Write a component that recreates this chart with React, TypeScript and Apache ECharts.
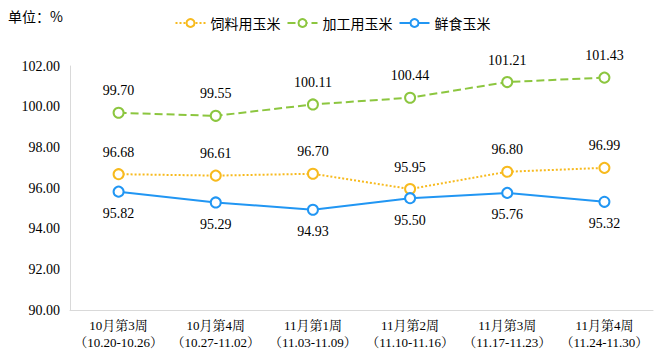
import React, { useEffect, useRef } from "react";
import * as echarts from "echarts";

const categories = [
  "10月第3周\n（10.20-10.26）",
  "10月第4周\n（10.27-11.02）",
  "11月第1周\n（11.03-11.09）",
  "11月第2周\n（11.10-11.16）",
  "11月第3周\n（11.17-11.23）",
  "11月第4周\n（11.24-11.30）",
];
const feedCorn = [96.68, 96.61, 96.7, 95.95, 96.8, 96.99];
const processCorn = [99.7, 99.55, 100.11, 100.44, 101.21, 101.43];
const freshCorn = [95.82, 95.29, 94.93, 95.5, 95.76, 95.32];

const serif = "Liberation Serif, Noto Serif CJK SC, Noto Sans CJK SC, serif";
const sans = "Noto Sans CJK SC, sans-serif";

export default function App() {
  const ref = useRef<HTMLDivElement>(null);
  useEffect(() => {
    const chart = echarts.init(ref.current!, null, { renderer: "svg" });
    const mk = (name: string, data: number[], color: string, type: any, pos: string) => ({
      name,
      type: "line",
      data,
      symbol: "emptyCircle",
      symbolSize: 10,
      lineStyle: { color, width: 2, type },
      itemStyle: { color, borderColor: color, borderWidth: 2 },
      label: {
        show: true,
        position: pos,
        distance: 9,
        color: "#000",
        fontFamily: serif,
        fontSize: 14,
        formatter: (p: any) => p.value.toFixed(2),
      },
    });
    chart.setOption({
      animation: false,
      graphic: [
        {
          type: "text",
          left: 8,
          top: 9,
          style: { text: "单位：%", fontFamily: sans, fontSize: 14, fill: "#000" },
        },
      ],
      legend: {
        top: 11,
        left: "center",
        itemWidth: 30,
        itemHeight: 10,
        itemGap: 6,
        textStyle: { fontFamily: sans, fontSize: 14, color: "#000" },
        data: ["饲料用玉米", "加工用玉米", "鲜食玉米"],
      },
      grid: { left: 70, right: 12, top: 66, bottom: 49 },
      xAxis: {
        type: "category",
        data: categories,
        axisLine: { lineStyle: { color: "#d9d9d9" } },
        axisTick: { show: false },
        axisLabel: {
          interval: 0,
          color: "#000",
          fontFamily: serif,
          fontSize: 13,
          lineHeight: 17,
          margin: 7,
        },
      },
      yAxis: {
        type: "value",
        min: 90,
        max: 102,
        interval: 2,
        axisLine: { show: true, lineStyle: { color: "#d9d9d9" } },
        splitLine: { show: false },
        axisTick: { show: false },
        axisLabel: {
          color: "#000",
          fontFamily: serif,
          fontSize: 14,
          margin: 10,
          formatter: (v: number) => v.toFixed(2),
        },
      },
      series: [
        mk("饲料用玉米", feedCorn, "#F7BA1E", "dotted", "top"),
        mk("加工用玉米", processCorn, "#8CC63F", "dashed", "top"),
        mk("鲜食玉米", freshCorn, "#2196F3", "solid", "bottom"),
      ],
    });
    return () => chart.dispose();
  }, []);
  return <div ref={ref} style={{ width: 665, height: 359, position: "absolute", left: 0, top: 0 }} />;
}
